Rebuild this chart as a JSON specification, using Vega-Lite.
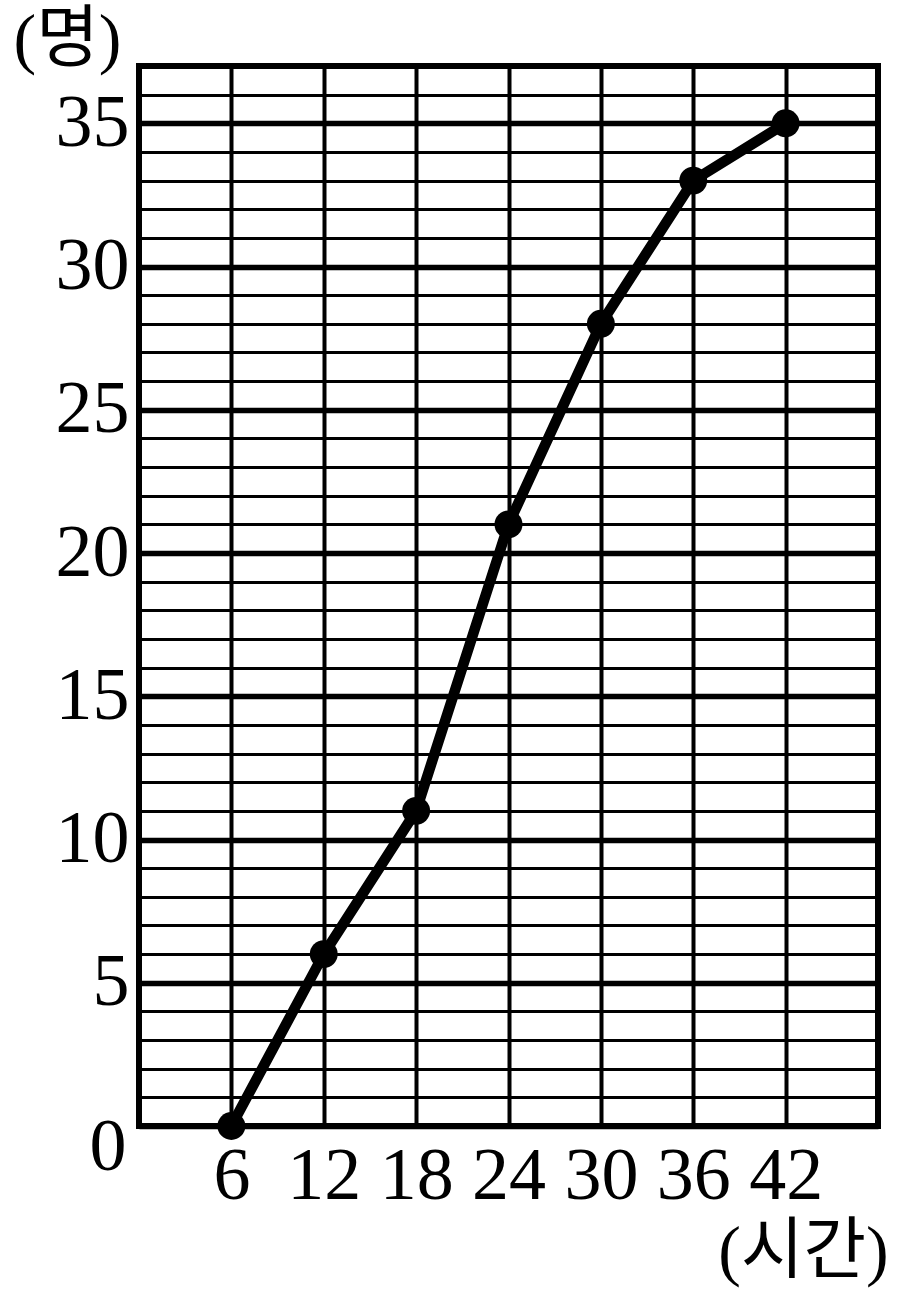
{
  "$schema": "https://vega.github.io/schema/vega-lite/v6.json",
  "autosize": "none",
  "width": 739,
  "height": 1060,
  "padding": {"left": 139, "top": 66, "right": 23, "bottom": 173},
  "background": "white",
  "config": {
    "view": {"stroke": "black", "strokeWidth": 6},
    "axis": {"labelFont": "Liberation Serif", "titleFont": "Liberation Serif, Noto Sans CJK KR"}
  },
  "data": {
    "values": [
      {"hours": 6, "people": 0},
      {"hours": 12, "people": 6},
      {"hours": 18, "people": 11},
      {"hours": 24, "people": 21},
      {"hours": 30, "people": 28},
      {"hours": 36, "people": 33},
      {"hours": 42, "people": 35}
    ]
  },
  "layer": [
    {
      "mark": {"type": "line", "stroke": "black", "strokeWidth": 10.5, "clip": false},
      "encoding": {
        "x": {
          "field": "hours", "type": "quantitative",
          "scale": {"domain": [0, 48], "nice": false, "zero": false},
          "axis": {
            "values": [6, 12, 18, 24, 30, 36, 42], "tickCount": 50,
            "grid": true, "gridColor": "black", "gridWidth": 4, "gridOpacity": 1,
            "domain": false, "ticks": false, "tickSize": 0,
            "labelFontSize": 74, "labelColor": "black", "labelPadding": 14,
            "labelFlush": false, "labelOverlap": false,
            "title": "(시간)", "titleFontSize": 68, "titleFontWeight": "normal", "titleColor": "black",
            "titleAnchor": null, "titleX": 664, "titleY": 126, "titleAlign": "center", "titleBaseline": "middle"
          }
        },
        "y": {
          "field": "people", "type": "quantitative",
          "scale": {"domain": [0, 37], "nice": false},
          "axis": {
            "values": [0,1,2,3,4,5,6,7,8,9,10,11,12,13,14,15,16,17,18,19,20,21,22,23,24,25,26,27,28,29,30,31,32,33,34,35,36,37],
            "tickCount": 50,
            "grid": true, "gridColor": "black", "gridOpacity": 1,
            "gridWidth": {"condition": {"test": "datum.value % 5 === 0", "value": 5.5}, "value": 3},
            "domain": false, "ticks": false, "tickSize": 0,
            "labelExpr": "datum.value % 5 === 0 && datum.value > 0 ? datum.label : ''",
            "labelFontSize": 74, "labelColor": "black", "labelPadding": 10,
            "labelFlush": false, "labelOverlap": false,
            "title": "(명)", "titleFontSize": 68, "titleFontWeight": "normal", "titleColor": "black",
            "titleAngle": 0, "titleAnchor": null, "titleX": -72, "titleY": -26, "titleAlign": "center", "titleBaseline": "middle"
          }
        }
      }
    },
    {
      "mark": {"type": "point", "shape": "circle", "filled": true, "color": "black", "opacity": 1, "size": 780, "clip": false},
      "encoding": {
        "x": {"field": "hours", "type": "quantitative"},
        "y": {"field": "people", "type": "quantitative"}
      }
    },
    {
      "data": {"values": [{"hours": 0, "people": 0, "label": "0"}]},
      "mark": {"type": "text", "font": "Liberation Serif", "fontSize": 74, "color": "black", "dx": -31, "dy": 22, "align": "center", "baseline": "middle", "clip": false},
      "encoding": {
        "x": {"field": "hours", "type": "quantitative"},
        "y": {"field": "people", "type": "quantitative"},
        "text": {"field": "label"}
      }
    }
  ]
}
